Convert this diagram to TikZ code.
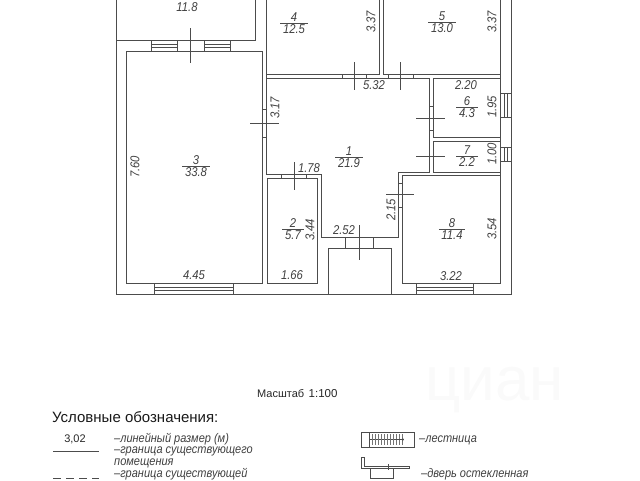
\documentclass[tikz,border=0pt]{standalone}
\usepackage{fontspec}
\setmainfont{Liberation Sans}
\newfontfamily\cadfont[FakeStretch=0.88]{Liberation Sans}
\usetikzlibrary{calc, positioning}
\definecolor{planink}{gray}{0.3}
\tikzstyle{wall} = [draw=planink, line width=0.8pt]
\tikzstyle{thinline} = [draw=planink, line width=0.5pt]
\tikzstyle{roomtext} = [text=black!75, font=\cadfont\itshape\fontsize{12.8}{13}\selectfont, inner sep=0.5pt]
\tikzstyle{legendtext} = [text=black!75, font=\cadfont\itshape\fontsize{12.5}{12}\selectfont, inner sep=0, anchor=west]
\begin{document}
\begin{tikzpicture}[x=1pt,y=-1pt]
    \useasboundingbox (0,0) rectangle (640,480);

    % watermark
    \node[inner sep=0, text=black!2, font=\fontsize{62}{62}\selectfont, anchor=west] (watermark) at (425,390) {циан};

    % outer walls
    \draw[wall] (116,0) -- (116,294) -- (511,294) -- (511,0);
    \draw[wall] (500,0) -- (500,283) -- (402,283) -- (402,175) -- (500,175);
    % upper rooms
    \draw[wall] (116,40) -- (255,40) -- (255,0);
    \draw[wall] (266,0) -- (266,174) -- (321,174) -- (321,237) -- (398,237) -- (398,172) -- (429,172) -- (429,78) -- (266,78);
    \draw[wall] (266,74) -- (379,74) -- (379,0);
    \draw[wall] (383,0) -- (383,74) -- (500,74);
    % room 3
    \draw[wall] (262,51) -- (126,51) -- (126,283) -- (262,283) -- cycle;
    % room 2
    \draw[wall] (267,283) -- (267,178) -- (317,178) -- (317,283) -- cycle;
    % rooms 6 and 7
    \draw[wall] (500,78) -- (433,78) -- (433,137) -- (500,137);
    \draw[wall] (500,141) -- (433,141) -- (433,172) -- (500,172);
    % stair box
    \draw[wall] (328,294) -- (328,248) -- (391,248) -- (391,294);

    % windows
    \foreach \xa/\xb in {151/177, 204/230} {
        \draw[thinline] (\xa,40) rectangle (\xb,51);
        \draw[thinline] (\xa,44) -- (\xb,44) (\xa,47) -- (\xb,47);
    }
    \foreach \xa/\xb in {154/233, 416/473} {
        \draw[thinline] (\xa,283) rectangle (\xb,294);
        \draw[thinline] (\xa,287) -- (\xb,287) (\xa,290) -- (\xb,290);
    }
    \foreach \ya/\yb in {93/117, 147/161} {
        \draw[thinline] (500,\ya) rectangle (511,\yb);
        \draw[thinline] (504,\ya) -- (504,\yb) (507,\ya) -- (507,\yb);
    }

    % door ticks
    \foreach \x/\ya/\yb in {190/28/63, 354/62/90, 400/62/90, 294/162/190, 359/225/260} {
        \draw[thinline] (\x,\ya) -- (\x,\yb);
    }
    \foreach \y/\xa/\xb in {123/250/279, 118/416/445, 156/416/445, 194/386/414} {
        \draw[thinline] (\xa,\y) -- (\xb,\y);
    }
    \foreach \x/\ya/\yb in {342/74/78, 366/74/78, 388/74/78, 413/74/78, 281/174/178, 306/174/178, 345/237/248, 373/237/248} {
        \draw[thinline] (\x,\ya) -- (\x,\yb);
    }
    \foreach \y/\xa/\xb in {109/262/266, 137/262/266, 106/429/433, 130/429/433, 183/398/402, 207/398/402} {
        \draw[thinline] (\xa,\y) -- (\xb,\y);
    }

    % room labels
    \foreach \num/\x/\y/\area in {1/349/151/21.9, 2/293/223/5.7, 3/196/160/33.8, 4/294/17/12.5, 5/442/16/13.0, 6/467/101/4.3, 7/467/150/2.2, 8/452/223/11.4} {
        \node[roomtext] (num\num) at (\x,\y) {\num};
        \node[roomtext, below=1.5pt of num\num] (area\num) {\area};
        \draw[thinline] ($(area\num.north west)+(-2,0)$) -- ($(area\num.north east)+(2,0)$);
    }
    \node[roomtext] (area9) at (187,7) {11.8};

    % dimensions
    \foreach \name/\x/\y/\txt in {a/374/85/5.32, b/466/85/2.20, c/309/168/1.78, d/194/275/4.45, e/292/275/1.66, f/344/230/2.52, g/451/276/3.22} {
        \node[roomtext] (dim\name) at (\x,\y) {\txt};
    }
    \foreach \name/\x/\y/\txt in {h/275/108/3.17, i/371/22/3.37, j/492/22/3.37, k/492/107/1.95, l/492/154/1.00, m/135/167/7.60, n/310/230/3.44, o/391/210/2.15, p/492/229/3.54} {
        \node[roomtext, rotate=90] (dim\name) at (\x,\y) {\txt};
    }

    % scale and legend
    \node[inner sep=0, anchor=west, text=black!85, font=\fontsize{11}{12}\selectfont] (scaleword) at (257,394) {Масштаб};
    \node[inner sep=0, text=black!85, font=\rmfamily\fontsize{11.5}{12}\selectfont, right=4pt of scaleword] (scalevalue) {1:100};
    \node[inner sep=0, anchor=west, text=black!90, font=\fontsize{15}{16}\selectfont] (legendtitle) at (52,417) {Условные обозначения:};
    \node[inner sep=0, text=black!85, font=\fontsize{11}{12}\selectfont] (legenddim) at (75,439) {3,02};
    \node[legendtext] (legenda) at (114,439) {–линейный размер (м)};
    \node[legendtext] (legendb) at (114,451) {–граница существующего};
    \node[legendtext] (legendc) at (114,463) {помещения};
    \node[legendtext] (legendd) at (114,474.5) {–граница существующей};
    \node[legendtext] (legende) at (419,440) {–лестница};
    \node[legendtext] (legendf) at (421,474.5) {–дверь остекленная};
    \draw[thinline] (53,451) -- (99,451);
    \draw[thinline, dash pattern=on 8pt off 5pt] (53,478) -- (99,478);

    % stair symbol
    \draw[thinline] (361,432) rectangle (414,447);
    \draw[thinline] (369,432) -- (369,447) (369,439.5) -- (404,439.5);
    \foreach \x in {372,375,...,402} {
        \draw[line width=0.3pt, draw=black!55] (\x,434) -- (\x,445);
    }
    \draw[thinline, ->] (395,439.5) -- (404,439.5);
    % door symbol
    \draw[thinline] (361,457) -- (361,468) -- (409,468) -- (409,466) -- (364,466) -- (364,457) -- cycle;
    \draw[thinline] (370,468) -- (370,478) -- (393,478) -- (393,468);
    \draw[thinline] (388,464) -- (388,470);
\end{tikzpicture}
\end{document}
